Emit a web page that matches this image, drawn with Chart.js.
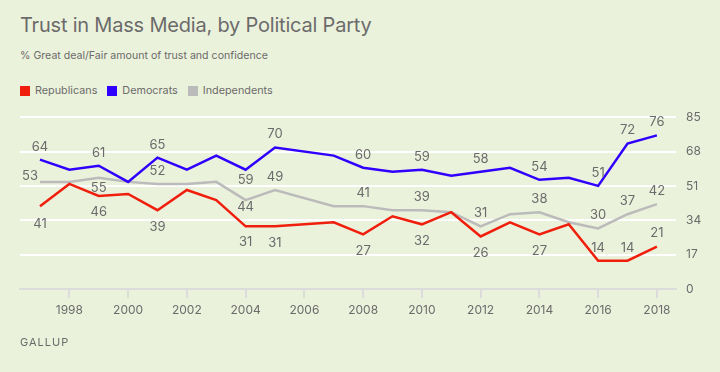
<!DOCTYPE html>
<html>
<head>
<meta charset="utf-8">
<script src="https://cdn.jsdelivr.net/npm/chart.js@4"></script>
<style>
  body { margin: 0; width: 720px; height: 372px; background: #ebf2dc; font-family: Inter, "Open Sans", sans-serif; color: #6b6b6b; position: relative; overflow: hidden; }
  #title { position: absolute; left: 20px; top: 13px; font-size: 20px; letter-spacing: -0.2px; }
  #subtitle { position: absolute; left: 20px; top: 49px; font-size: 10.6px; }
  #legend { position: absolute; left: 20px; top: 84px; font-size: 10.8px; display: flex; }
  #legend span.item { display: flex; align-items: center; margin-right: 10px; }
  #legend span.box { width: 10px; height: 10px; margin-right: 5px; display: inline-block; }
  #footer { position: absolute; left: 20px; top: 335px; font-size: 11px; letter-spacing: 1px; }
  #wrap { position: absolute; left: 0; top: 100px; width: 720px; height: 240px; }
</style>
</head>
<body>
<div id="title">Trust in Mass Media, by Political Party</div>
<div id="subtitle">% Great deal/Fair amount of trust and confidence</div>
<div id="legend"></div>
<div id="wrap"><canvas id="chart"></canvas></div>
<div id="footer">GALLUP</div>
<script>
// Gallup: trust in mass media by party (no 2006 reading)
const years = [1997, 1998, 1999, 2000, 2001, 2002, 2003, 2004, 2005, 2006, 2007,
               2008, 2009, 2010, 2011, 2012, 2013, 2014, 2015, 2016, 2017, 2018];
const republicans = [41, 52, 46, 47, 39, 49, 44, 31, 31, null, 33, 27, 36, 32, 38, 26, 33, 27, 32, 14, 14, 21];
const democrats   = [64, 59, 61, 53, 65, 59, 66, 59, 70, null, 66, 60, 58, 59, 56, 58, 60, 54, 55, 51, 72, 76];
const independents = [53, 53, 55, 53, 52, 52, 53, 44, 49, null, 41, 41, 39, 39, 38, 31, 37, 38, 33, 30, 37, 42];
const yTicks = [0, 17, 34, 51, 68, 85];
const xTicks = [1998, 2000, 2002, 2004, 2006, 2008, 2010, 2012, 2014, 2016, 2018];
const labelYears = [1997, 1999, 2001, 2004, 2005, 2008, 2010, 2012, 2014, 2016, 2017, 2018];

// label offsets (dx, dy) per labelled year; default is above the point
const labelOffsets = {
  Republicans: { 1997: [0, 18], 1999: [0, 16], 2001: [0, 17], 2004: [0, 16], 2005: [0, 17],
                 2008: [0, 17], 2010: [0, 17], 2012: [0, 17], 2014: [0, 17] },
  Democrats: { 2004: [0, 10] },
  Independents: { 1997: [-10, -6], 1999: [0, 10], 2004: [0, 7] }
};

const series = [
  { label: 'Republicans', values: republicans, color: '#f01e0c' },
  { label: 'Democrats', values: democrats, color: '#3000ff' },
  { label: 'Independents', values: independents, color: '#bbbbbb' }
];

// html legend
const legendEl = document.getElementById('legend');
series.forEach(s => {
  const item = document.createElement('span');
  item.className = 'item';
  item.innerHTML = `<span class="box" style="background:${s.color}"></span>${s.label}`;
  legendEl.appendChild(item);
});

const valueLabels = {
  id: 'valueLabels',
  afterDatasetsDraw(chart) {
    const ctx = chart.ctx;
    ctx.save();
    ctx.font = '13px Inter, "Open Sans", sans-serif';
    ctx.fillStyle = '#6b6b6b';
    ctx.textAlign = 'center';
    ctx.textBaseline = 'middle';
    chart.data.datasets.forEach((ds, di) => {
      const meta = chart.getDatasetMeta(di);
      const offs = labelOffsets[ds.label] || {};
      years.forEach((yr, i) => {
        if (!labelYears.includes(yr) || ds.data[i].y == null) return;
        const pt = meta.data[i];
        const o = offs[yr] || [0, -13];
        ctx.fillText(String(ds.data[i].y), pt.x + o[0], pt.y + o[1]);
      });
    });
    ctx.restore();
  }
};

new Chart(document.getElementById('chart'), {
  type: 'line',
  data: {
    datasets: series.map(s => ({
      label: s.label,
      data: years.map((yr, i) => ({ x: yr, y: s.values[i] })),
      borderColor: s.color,
      backgroundColor: s.color,
      borderWidth: 2.5,
      pointRadius: 0,
      tension: 0,
      spanGaps: true
    }))
  },
  options: {
    responsive: true,
    maintainAspectRatio: false,
    animation: false,
    layout: { padding: { left: 20, top: 14, right: 0, bottom: 0 } },
    plugins: { legend: { display: false }, tooltip: { enabled: false } },
    scales: {
      x: {
        type: 'linear',
        min: 1996.32,
        max: 2018.65,
        afterBuildTicks: axis => { axis.ticks = xTicks.map(v => ({ value: v })); },
        afterFit: axis => { axis.height = 51; },
        grid: { drawOnChartArea: false, drawTicks: true, tickLength: 9, color: '#dcdcdc', lineWidth: 2 },
        border: { display: true, color: '#dcdcdc', width: 2 },
        ticks: { color: '#6b6b6b', font: { size: 12, family: 'Inter, "Open Sans", sans-serif' }, padding: 5,
                 maxRotation: 0, callback: v => String(v) }
      },
      y: {
        position: 'right',
        min: 0,
        max: 85,
        afterBuildTicks: axis => { axis.ticks = yTicks.map(v => ({ value: v })); },
        afterFit: axis => { axis.width = 44; },
        grid: { drawTicks: false, color: ctx => ctx.tick.value === 0 ? 'rgba(0,0,0,0)' : '#ffffff', lineWidth: 2 },
        border: { display: false },
        ticks: { color: '#6b6b6b', font: { size: 12, family: 'Inter, "Open Sans", sans-serif' }, padding: 10 }
      }
    }
  },
  plugins: [valueLabels]
});
</script>
</body>
</html>
